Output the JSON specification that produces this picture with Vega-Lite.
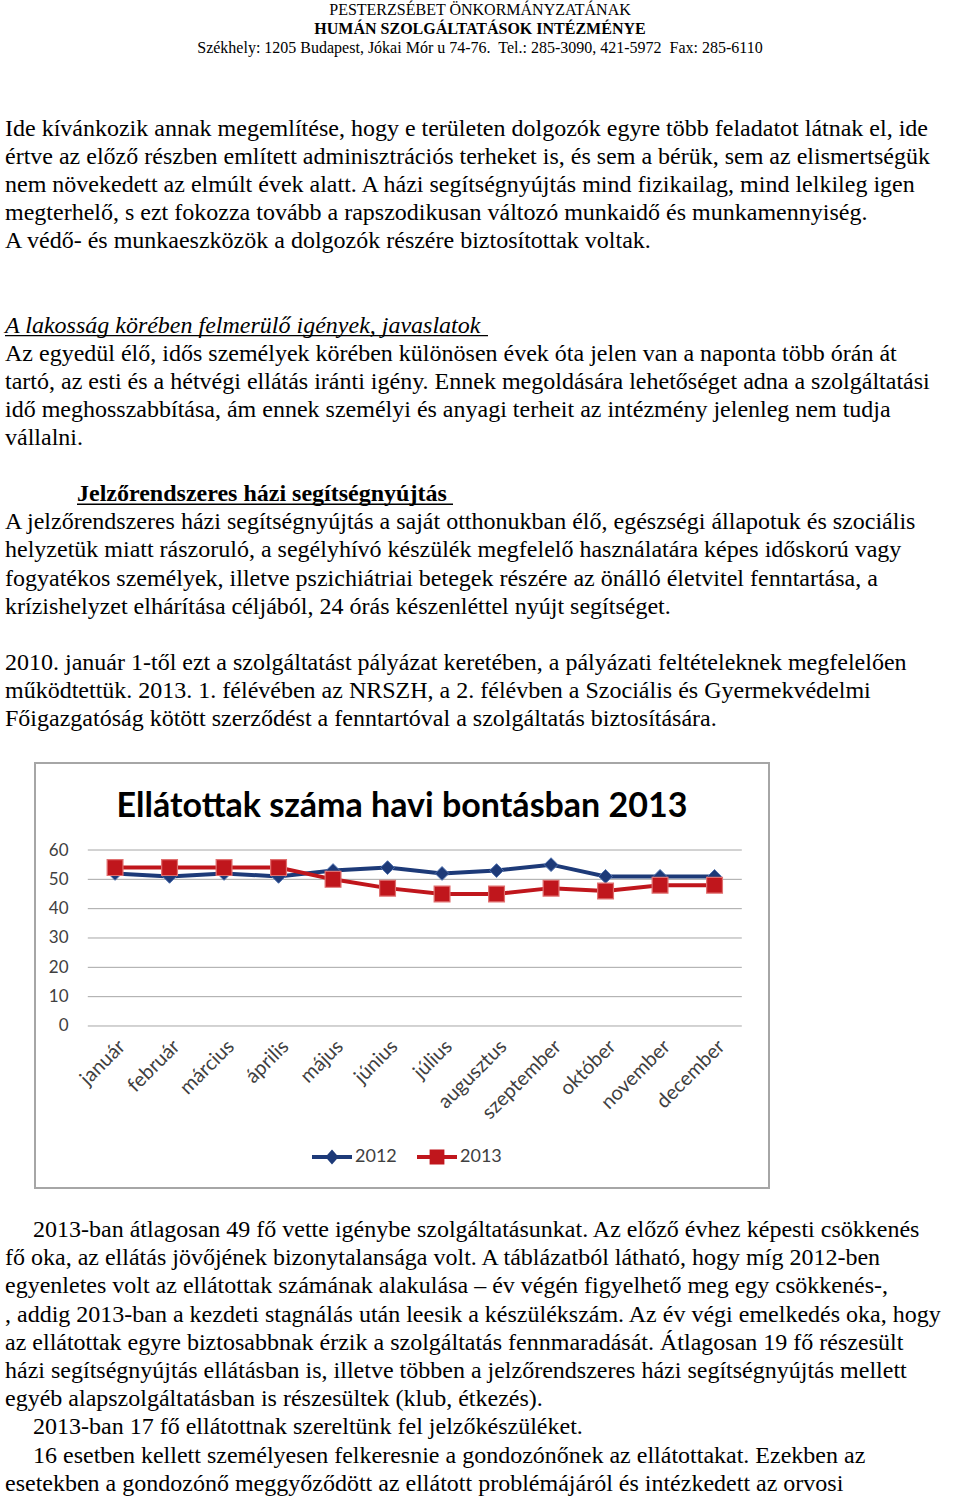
{
  "$schema": "https://vega.github.io/schema/vega-lite/v6.json",
  "padding": 0,
  "background": "white",
  "spacing": 0,
  "bounds": "full",
  "datasets": {
    "header": [
      {"line": 1, "text": "PESTERZSÉBET ÖNKORMÁNYZATÁNAK"},
      {"line": 2, "text": "HUMÁN SZOLGÁLTATÁSOK INTÉZMÉNYE"},
      {"line": 3, "text": "Székhely: 1205 Budapest, Jókai Mór u 74-76.\u00a0 Tel.: 285-3090, 421-5972\u00a0 Fax: 285-6110"}
    ],
    "top": [
      {"line": 0, "text": "Ide kívánkozik annak megemlítése, hogy e területen dolgozók egyre több feladatot látnak el, ide"},
      {"line": 1, "text": "értve az előző részben említett adminisztrációs terheket is, és sem a bérük, sem az elismertségük"},
      {"line": 2, "text": "nem növekedett az elmúlt évek alatt. A házi segítségnyújtás mind fizikailag, mind lelkileg igen"},
      {"line": 3, "text": "megterhelő, s ezt fokozza tovább a rapszodikusan változó munkaidő és munkamennyiség."},
      {"line": 4, "text": "A védő- és munkaeszközök a dolgozók részére biztosítottak voltak."},
      {"line": 8, "text": "Az egyedül élő, idős személyek körében különösen évek óta jelen van a naponta több órán át"},
      {"line": 9, "text": "tartó, az esti és a hétvégi ellátás iránti igény. Ennek megoldására lehetőséget adna a szolgáltatási"},
      {"line": 10, "text": "idő meghosszabbítása, ám ennek személyi és anyagi terheit az intézmény jelenleg nem tudja"},
      {"line": 11, "text": "vállalni."},
      {"line": 14, "text": "A jelzőrendszeres házi segítségnyújtás a saját otthonukban élő, egészségi állapotuk és szociális"},
      {"line": 15, "text": "helyzetük miatt rászoruló, a segélyhívó készülék megfelelő használatára képes időskorú vagy"},
      {"line": 16, "text": "fogyatékos személyek, illetve pszichiátriai betegek részére az önálló életvitel fenntartása, a"},
      {"line": 17, "text": "krízishelyzet elhárítása céljából, 24 órás készenléttel nyújt segítséget."},
      {"line": 19, "text": "2010. január 1-től ezt a szolgáltatást pályázat keretében, a pályázati feltételeknek megfelelően"},
      {"line": 20, "text": "működtettük. 2013. 1. félévében az NRSZH, a 2. félévben a Szociális és Gyermekvédelmi"},
      {"line": 21, "text": "Főigazgatóság kötött szerződést a fenntartóval a szolgáltatás biztosítására."}
    ],
    "headings": [
      {"line": 7, "text": "A lakosság körében felmerülő igények, javaslatok"},
      {"line": 13, "text": "Jelzőrendszeres házi segítségnyújtás"}
    ],
    "bottom": [
      {"line": 0, "text": "2013-ban átlagosan 49 fő vette igénybe szolgáltatásunkat. Az előző évhez képesti csökkenés"},
      {"line": 1, "text": "fő oka, az ellátás jövőjének bizonytalansága volt. A táblázatból látható, hogy míg 2012-ben"},
      {"line": 2, "text": "egyenletes volt az ellátottak számának alakulása – év végén figyelhető meg egy csökkenés-,"},
      {"line": 3, "text": ", addig 2013-ban a kezdeti stagnálás után leesik a készülékszám. Az év végi emelkedés oka, hogy"},
      {"line": 4, "text": "az ellátottak egyre biztosabbnak érzik a szolgáltatás fennmaradását. Átlagosan 19 fő részesült"},
      {"line": 5, "text": "házi segítségnyújtás ellátásban is, illetve többen a jelzőrendszeres házi segítségnyújtás mellett"},
      {"line": 6, "text": "egyéb alapszolgáltatásban is részesültek (klub, étkezés)."},
      {"line": 7, "text": "2013-ban 17 fő ellátottnak szereltünk fel jelzőkészüléket."},
      {"line": 8, "text": "16 esetben kellett személyesen felkeresnie a gondozónőnek az ellátottakat. Ezekben az"},
      {"line": 9, "text": "esetekben a gondozónő meggyőződött az ellátott problémájáról és intézkedett az orvosi"}
    ],
    "chart": [
      {"month": "január", "year": "2012", "value": 52},
      {"month": "február", "year": "2012", "value": 51},
      {"month": "március", "year": "2012", "value": 52},
      {"month": "április", "year": "2012", "value": 51},
      {"month": "május", "year": "2012", "value": 53},
      {"month": "június", "year": "2012", "value": 54},
      {"month": "július", "year": "2012", "value": 52},
      {"month": "augusztus", "year": "2012", "value": 53},
      {"month": "szeptember", "year": "2012", "value": 55},
      {"month": "október", "year": "2012", "value": 51},
      {"month": "november", "year": "2012", "value": 51},
      {"month": "december", "year": "2012", "value": 51},
      {"month": "január", "year": "2013", "value": 54},
      {"month": "február", "year": "2013", "value": 54},
      {"month": "március", "year": "2013", "value": 54},
      {"month": "április", "year": "2013", "value": 54},
      {"month": "május", "year": "2013", "value": 50},
      {"month": "június", "year": "2013", "value": 47},
      {"month": "július", "year": "2013", "value": 45},
      {"month": "augusztus", "year": "2013", "value": 45},
      {"month": "szeptember", "year": "2013", "value": 47},
      {"month": "október", "year": "2013", "value": 46},
      {"month": "november", "year": "2013", "value": 48},
      {"month": "december", "year": "2013", "value": 48}
    ],
    "grid": [
      {"tick": 0}, {"tick": 10}, {"tick": 20}, {"tick": 30}, {"tick": 40}, {"tick": 50}, {"tick": 60}
    ]
  },
  "vconcat": [
    {
      "width": 960,
      "height": 58,
      "data": {"name": "header"},
      "layer": [
        {
          "transform": [{"filter": "datum.line !== 2"}],
          "mark": {"type": "text", "font": "Liberation Serif", "fontSize": 16, "align": "center", "baseline": "middle", "color": "black"},
          "encoding": {
            "text": {"field": "text"},
            "y": {"field": "line", "type": "ordinal", "axis": null, "scale": {"type": "point", "padding": 0.55, "domain": [1, 2, 3]}}
          }
        },
        {
          "transform": [{"filter": "datum.line === 2"}],
          "mark": {"type": "text", "font": "Liberation Serif", "fontSize": 16, "fontWeight": "bold", "align": "center", "baseline": "middle", "color": "black"},
          "encoding": {
            "text": {"field": "text"},
            "y": {"field": "line", "type": "ordinal", "axis": null, "scale": {"type": "point", "padding": 0.55, "domain": [1, 2, 3]}}
          }
        }
      ]
    },
    {
      "width": 960,
      "height": 704,
      "layer": [
        {
          "data": {"name": "top"},
          "mark": {"type": "text", "font": "Liberation Serif", "fontSize": 24, "align": "left", "baseline": "middle", "x": 5, "color": "black"},
          "encoding": {
            "text": {"field": "text"},
            "y": {"field": "line", "type": "quantitative", "axis": null, "scale": {"domain": [-2.527, 22.53], "reverse": true, "nice": false, "zero": false}}
          }
        },
        {
          "data": {"name": "headings"},
          "transform": [{"filter": "datum.line === 7"}],
          "layer": [
            {
              "mark": {"type": "text", "font": "Liberation Serif", "fontSize": 24, "fontStyle": "italic", "align": "left", "baseline": "middle", "x": 5, "color": "black"},
              "encoding": {
                "text": {"field": "text"},
                "y": {"field": "line", "type": "quantitative", "axis": null, "scale": {"domain": [-2.527, 22.53], "reverse": true, "nice": false, "zero": false}}
              }
            },
            {
              "mark": {"type": "rule", "x": 5, "x2": 488, "yOffset": 10, "strokeWidth": 1.3, "color": "black"},
              "encoding": {
                "y": {"field": "line", "type": "quantitative", "axis": null, "scale": {"domain": [-2.527, 22.53], "reverse": true, "nice": false, "zero": false}}
              }
            }
          ]
        },
        {
          "data": {"name": "headings"},
          "transform": [{"filter": "datum.line === 13"}],
          "layer": [
            {
              "mark": {"type": "text", "font": "Liberation Serif", "fontSize": 24, "fontWeight": "bold", "align": "left", "baseline": "middle", "x": 77, "color": "black"},
              "encoding": {
                "text": {"field": "text"},
                "y": {"field": "line", "type": "quantitative", "axis": null, "scale": {"domain": [-2.527, 22.53], "reverse": true, "nice": false, "zero": false}}
              }
            },
            {
              "mark": {"type": "rule", "x": 77, "x2": 453, "yOffset": 10, "strokeWidth": 1.5, "color": "black"},
              "encoding": {
                "y": {"field": "line", "type": "quantitative", "axis": null, "scale": {"domain": [-2.527, 22.53], "reverse": true, "nice": false, "zero": false}}
              }
            }
          ]
        }
      ]
    },
    {
      "spacing": 0,
      "bounds": "flush",
      "hconcat": [
        {
          "width": 35,
          "height": 425,
          "data": {"values": []},
          "mark": "point"
        },
        {
          "width": 734,
          "height": 425,
          "view": {"stroke": "#a6a6a6", "strokeWidth": 2},
          "title": {
            "text": "Ellátottak száma havi bontásban 2013",
            "font": "Lato",
            "fontWeight": "bold",
            "fontSize": 34,
            "color": "black",
            "anchor": "middle",
            "frame": "group",
            "offset": -61
          },
          "layer": [
            {
              "data": {"name": "grid"},
              "mark": {"type": "rule", "color": "#a6a6a6", "strokeWidth": 1},
              "encoding": {
                "y": {"field": "tick", "type": "quantitative", "scale": {"domain": [-55.23, 89.66], "nice": false, "zero": false},
                      "axis": {"values": [0, 10, 20, 30, 40, 50, 60], "offset": -33, "title": null, "grid": false, "domain": false, "ticks": false, "tickSize": 0, "labelPadding": 0, "labelFont": "Lato", "labelFontSize": 17, "labelColor": "#404040"}},
                "x": {"datum": "január", "type": "nominal", "bandPosition": 0,
                      "scale": {"type": "band", "domain": ["január", "február", "március", "április", "május", "június", "július", "augusztus", "szeptember", "október", "november", "december"], "paddingInner": 0, "paddingOuter": 0.734, "align": 0.66},
                      "axis": {"orient": "bottom", "offset": -162, "title": null, "domain": false, "ticks": false, "tickSize": 0, "labelAngle": -45, "labelPadding": 10, "labelFont": "Lato", "labelFontSize": 20, "labelColor": "#404040", "labelOverlap": false, "labelBound": false}},
                "x2": {"datum": "december", "bandPosition": 1}
              }
            },
            {
              "data": {"name": "chart"},
              "mark": {"type": "line", "strokeWidth": 4},
              "encoding": {
                "x": {"field": "month", "type": "nominal"},
                "y": {"field": "value", "type": "quantitative"},
                "color": {"field": "year", "type": "nominal",
                          "scale": {"domain": ["2012", "2013"], "range": ["#1d3a78", "#c0161c"]},
                          "legend": {
                            "orient": "none", "legendX": 312, "legendY": 1137, "direction": "horizontal", "title": null, "padding": 0,
                            "labelFont": "Lato", "labelFontSize": 18, "labelColor": "#404040", "labelOffset": 3,
                            "symbolSize": 1600, "columnPadding": 20,
                            "encode": {
                              "symbols": {
                                "update": {
                                  "shape": {"signal": "datum.value === '2012' ? 'M-1,-0.1L1,-0.1L1,0.1L-1,0.1Z M0,-0.37L0.33,0L0,0.37L-0.33,0Z' : 'M-1,-0.1L1,-0.1L1,0.1L-1,0.1Z M-0.37,-0.37L0.37,-0.37L0.37,0.37L-0.37,0.37Z'"},
                                  "fill": {"scale": "color", "field": "value"},
                                  "stroke": {"value": "transparent"},
                                  "strokeWidth": {"value": 0},
                                  "opacity": {"value": 1}
                                }
                              }
                            }
                          }},
                "order": {"value": null}
              }
            },
            {
              "data": {"name": "chart"},
              "transform": [{"filter": "datum.year === '2012'"}],
              "mark": {"type": "point", "shape": "diamond", "filled": true, "size": 190, "opacity": 1, "stroke": "#4d6fae", "strokeWidth": 1},
              "encoding": {
                "x": {"field": "month", "type": "nominal"},
                "y": {"field": "value", "type": "quantitative"},
                "color": {"field": "year", "type": "nominal", "legend": null}
              }
            },
            {
              "data": {"name": "chart"},
              "transform": [{"filter": "datum.year === '2013'"}],
              "mark": {"type": "point", "shape": "square", "filled": true, "size": 250, "opacity": 1, "stroke": "#e07070", "strokeWidth": 1.2},
              "encoding": {
                "x": {"field": "month", "type": "nominal"},
                "y": {"field": "value", "type": "quantitative"},
                "color": {"field": "year", "type": "nominal", "legend": null}
              }
            }
          ]
        }
      ]
    },
    {
      "width": 960,
      "height": 310,
      "data": {"name": "bottom"},
      "layer": [
        {
          "transform": [{"filter": "datum.line !== 0 && datum.line !== 7 && datum.line !== 8"}],
          "mark": {"type": "text", "font": "Liberation Serif", "fontSize": 24, "align": "left", "baseline": "middle", "x": 5, "color": "black"},
          "encoding": {
            "text": {"field": "text"},
            "y": {"field": "line", "type": "quantitative", "axis": null, "scale": {"domain": [-1.454, 9.536], "reverse": true, "nice": false, "zero": false}}
          }
        },
        {
          "transform": [{"filter": "datum.line === 0 || datum.line === 7 || datum.line === 8"}],
          "mark": {"type": "text", "font": "Liberation Serif", "fontSize": 24, "align": "left", "baseline": "middle", "x": 33, "color": "black"},
          "encoding": {
            "text": {"field": "text"},
            "y": {"field": "line", "type": "quantitative", "axis": null, "scale": {"domain": [-1.454, 9.536], "reverse": true, "nice": false, "zero": false}}
          }
        }
      ]
    }
  ],
  "config": {
    "view": {"stroke": null},
    "axis": {"labelFont": "Lato"},
    "legend": {"labelFont": "Lato"}
  }
}
